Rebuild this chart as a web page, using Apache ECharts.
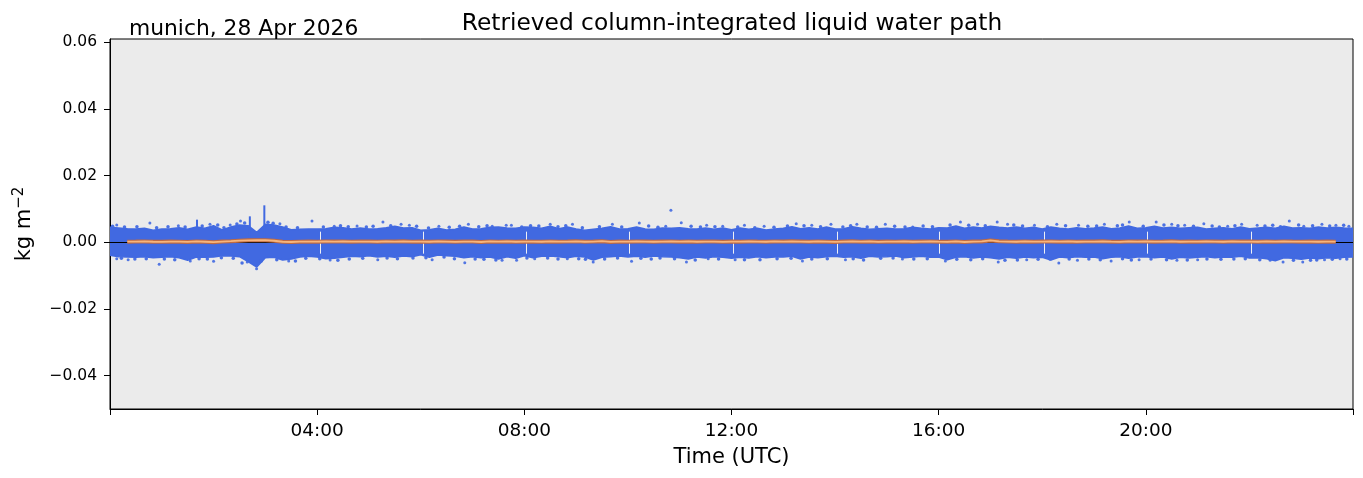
<!DOCTYPE html>
<html>
<head>
<meta charset="utf-8">
<title>Liquid water path</title>
<script src="https://cdn.jsdelivr.net/npm/echarts@6/dist/echarts.min.js"></script>
<style>
  html, body { margin: 0; padding: 0; background: #fff; }
  #chart { width: 1363px; height: 478px; }
</style>
</head>
<body>
<div id="chart"></div>
<script>
// envelope of the retrieved LWP cloud, one value every 10 min from 00:00 (kg m-2)
const ENV_STEP_H = 1 / 6;
const upperEnv = [
  0.0045, 0.0043, 0.0041, 0.0040, 0.0042, 0.0036,
  0.0040, 0.0041, 0.0044, 0.0039, 0.0046, 0.0042,
  0.0050, 0.0037, 0.0046, 0.0052, 0.0050, 0.0030,
  0.0054, 0.0052, 0.0046, 0.0038, 0.0039, 0.0040,
  0.0040, 0.0041, 0.0045, 0.0044, 0.0040, 0.0043,
  0.0040, 0.0041, 0.0044, 0.0048, 0.0043, 0.0044,
  0.0036, 0.0038, 0.0042, 0.0037, 0.0039, 0.0046,
  0.0040, 0.0041, 0.0045, 0.0046, 0.0043, 0.0042,
  0.0046, 0.0045, 0.0042, 0.0048, 0.0041, 0.0046,
  0.0040, 0.0036, 0.0039, 0.0042, 0.0047, 0.0040,
  0.0041, 0.0046, 0.0040, 0.0039, 0.0043, 0.0042,
  0.0044, 0.0041, 0.0040, 0.0043, 0.0039, 0.0043,
  0.0038, 0.0043, 0.0039, 0.0042, 0.0037, 0.0040,
  0.0042, 0.0047, 0.0041, 0.0044, 0.0040, 0.0046,
  0.0040, 0.0041, 0.0047, 0.0042, 0.0039, 0.0041,
  0.0042, 0.0040, 0.0041, 0.0045, 0.0042, 0.0040,
  0.0044, 0.0043, 0.0049, 0.0042, 0.0046, 0.0043,
  0.0048, 0.0045, 0.0043, 0.0046, 0.0042, 0.0045,
  0.0040, 0.0046, 0.0042, 0.0040, 0.0044, 0.0041,
  0.0043, 0.0046, 0.0041, 0.0043, 0.0049, 0.0042,
  0.0044, 0.0048, 0.0043, 0.0045, 0.0042, 0.0044,
  0.0045, 0.0040, 0.0042, 0.0044, 0.0041, 0.0046,
  0.0041, 0.0043, 0.0045, 0.0042, 0.0048, 0.0043,
  0.0044, 0.0042, 0.0046, 0.0043, 0.0045, 0.0043,
  0.0042
];
const lowerEnv = [
  -0.0039, -0.0043, -0.0044, -0.0045, -0.0043, -0.0046,
  -0.0045, -0.0043, -0.0046, -0.0054, -0.0044, -0.0045,
  -0.0044, -0.0040, -0.0041, -0.0043, -0.0058, -0.0074,
  -0.0046, -0.0045, -0.0053, -0.0050, -0.0044, -0.0042,
  -0.0044, -0.0049, -0.0048, -0.0045, -0.0042, -0.0043,
  -0.0040, -0.0044, -0.0042, -0.0045, -0.0041, -0.0043,
  -0.0037, -0.0045, -0.0038, -0.0040, -0.0042, -0.0046,
  -0.0043, -0.0046, -0.0044, -0.0050, -0.0043, -0.0048,
  -0.0040, -0.0046, -0.0042, -0.0041, -0.0043, -0.0046,
  -0.0042, -0.0044, -0.0053, -0.0045, -0.0043, -0.0041,
  -0.0044, -0.0042, -0.0045, -0.0041, -0.0043, -0.0044,
  -0.0046, -0.0050, -0.0044, -0.0047, -0.0043, -0.0045,
  -0.0048, -0.0045, -0.0047, -0.0043, -0.0046, -0.0044,
  -0.0044, -0.0042, -0.0050, -0.0044, -0.0046, -0.0043,
  -0.0042, -0.0045, -0.0043, -0.0048, -0.0042, -0.0044,
  -0.0043, -0.0041, -0.0046, -0.0044, -0.0042, -0.0045,
  -0.0044, -0.0052, -0.0045, -0.0043, -0.0047, -0.0044,
  -0.0046, -0.0050, -0.0045, -0.0048, -0.0044, -0.0046,
  -0.0045, -0.0053, -0.0044, -0.0046, -0.0043, -0.0045,
  -0.0044, -0.0049, -0.0045, -0.0043, -0.0048, -0.0044,
  -0.0043, -0.0046, -0.0044, -0.0050, -0.0045, -0.0047,
  -0.0045, -0.0043, -0.0046, -0.0044, -0.0045, -0.0042,
  -0.0047, -0.0046, -0.0049, -0.0055, -0.0046, -0.0048,
  -0.0051, -0.0047, -0.0049, -0.0046, -0.0048, -0.0045,
  -0.0044
];

// narrow spikes above the cloud: [hour, kg m-2]
const spikes = [[1.68, 0.0068], [2.70, 0.0078], [2.98, 0.0111]];

// isolated samples outside the dense cloud: [hour, kg m-2]
const outliers = [
  [0.13, 0.0052], [0.77, 0.0058], [1.32, 0.0050], [1.93, 0.0054], [2.32, 0.0052],
  [2.52, 0.0064], [3.28, 0.0056], [3.90, 0.0064], [4.33, 0.0048], [4.77, 0.0049],
  [5.27, 0.0061], [5.62, 0.0054], [5.78, 0.0051], [6.35, 0.0048], [6.92, 0.0054],
  [7.38, 0.0048], [7.65, 0.0051], [7.75, 0.0051], [8.50, 0.0054], [8.93, 0.0054],
  [9.70, 0.0054], [10.22, 0.0058], [10.73, 0.0048], [10.83, 0.0096], [11.03, 0.0059],
  [11.52, 0.0051], [11.83, 0.0048], [12.25, 0.0051], [12.63, 0.0048], [13.25, 0.0056],
  [13.55, 0.0051], [13.92, 0.0054], [14.42, 0.0054], [14.97, 0.0054], [15.50, 0.0046],
  [16.42, 0.0061], [16.75, 0.0054], [17.13, 0.0061], [17.33, 0.0054], [17.85, 0.0051],
  [18.28, 0.0054], [18.70, 0.0051], [19.20, 0.0054], [19.68, 0.0061], [20.20, 0.0061],
  [20.50, 0.0054], [20.75, 0.0051], [21.12, 0.0056], [21.58, 0.0048], [21.85, 0.0054],
  [22.15, 0.0051], [22.77, 0.0064], [23.05, 0.0048], [23.40, 0.0054], [23.67, 0.0051],
  [23.92, 0.0048],
  [0.13, -0.0049], [0.35, -0.0052], [0.95, -0.0066], [1.55, -0.0056], [2.00, -0.0057],
  [2.65, -0.0059], [2.83, -0.0079], [3.45, -0.0056], [4.25, -0.0053], [5.17, -0.0052],
  [6.22, -0.0052], [6.85, -0.0061], [7.57, -0.0054], [7.85, -0.0054], [8.20, -0.0049],
  [8.83, -0.0049], [9.33, -0.0059], [10.07, -0.0057], [11.13, -0.0059], [11.55, -0.0049],
  [12.07, -0.0052], [13.37, -0.0056], [14.20, -0.0052], [15.30, -0.0050], [16.13, -0.0056],
  [17.15, -0.0059], [17.70, -0.0052], [18.32, -0.0062], [18.68, -0.0054], [19.33, -0.0056],
  [19.87, -0.0052], [20.60, -0.0054], [21.00, -0.0052], [22.65, -0.0059], [23.03, -0.0059],
  [23.45, -0.0052], [23.75, -0.0049]
];

// loose samples along the ragged edge of the cloud: [hour, kg m-2]
const fringe = [
  [0.05, 0.0048], [0.28, 0.0046], [0.52, 0.0047], [0.90, 0.0044], [1.12, 0.0047],
  [1.45, 0.0046], [1.78, 0.0049], [2.08, 0.0052], [2.20, 0.0044], [2.45, 0.0055],
  [2.60, 0.0058], [3.05, 0.0060], [3.15, 0.0057], [3.40, 0.0046], [3.62, 0.0044],
  [4.12, 0.0046], [4.45, 0.0050], [4.60, 0.0047], [4.95, 0.0046], [5.08, 0.0048],
  [5.42, 0.0050], [5.92, 0.0048], [6.15, 0.0043], [6.55, 0.0045], [6.75, 0.0048],
  [7.12, 0.0047], [7.28, 0.0050], [7.95, 0.0046], [8.12, 0.0050], [8.28, 0.0049],
  [8.65, 0.0047], [8.80, 0.0050], [9.12, 0.0044], [9.45, 0.0047], [9.88, 0.0046],
  [10.40, 0.0049], [10.58, 0.0045], [11.22, 0.0048], [11.40, 0.0046], [11.68, 0.0047],
  [12.12, 0.0046], [12.45, 0.0044], [12.82, 0.0045], [13.08, 0.0049], [13.40, 0.0050],
  [13.72, 0.0047], [14.15, 0.0046], [14.30, 0.0050], [14.62, 0.0046], [14.80, 0.0045],
  [15.15, 0.0048], [15.35, 0.0046], [15.70, 0.0049], [15.88, 0.0047], [16.22, 0.0052],
  [16.58, 0.0051], [16.90, 0.0050], [17.45, 0.0052], [17.62, 0.0049], [18.10, 0.0047],
  [18.45, 0.0050], [18.88, 0.0048], [19.05, 0.0049], [19.45, 0.0050], [19.55, 0.0052],
  [19.95, 0.0048], [20.35, 0.0052], [20.62, 0.0050], [20.92, 0.0048], [21.28, 0.0049],
  [21.42, 0.0046], [21.72, 0.0050], [22.30, 0.0049], [22.45, 0.0051], [22.60, 0.0047],
  [22.95, 0.0052], [23.22, 0.0050], [23.55, 0.0049], [23.82, 0.0051],
  [0.22, -0.0048], [0.48, -0.0050], [0.70, -0.0049], [1.05, -0.0050], [1.25, -0.0052],
  [1.72, -0.0049], [1.88, -0.0050], [2.15, -0.0046], [2.38, -0.0048], [2.55, -0.0062],
  [2.92, -0.0056], [3.22, -0.0052], [3.58, -0.0056], [3.78, -0.0048], [4.05, -0.0049],
  [4.40, -0.0054], [4.62, -0.0050], [4.88, -0.0048], [5.35, -0.0047], [5.55, -0.0049],
  [5.85, -0.0047], [6.10, -0.0046], [6.45, -0.0044], [6.65, -0.0049], [7.05, -0.0050],
  [7.22, -0.0051], [7.45, -0.0053], [8.05, -0.0047], [8.45, -0.0047], [8.65, -0.0050],
  [9.05, -0.0049], [9.18, -0.0051], [9.55, -0.0050], [9.80, -0.0047], [10.25, -0.0048],
  [10.45, -0.0050], [10.62, -0.0047], [10.90, -0.0049], [11.30, -0.0053], [11.75, -0.0050],
  [12.25, -0.0052], [12.55, -0.0052], [12.88, -0.0049], [13.15, -0.0048], [13.55, -0.0050],
  [13.85, -0.0049], [14.35, -0.0049], [14.55, -0.0053], [14.88, -0.0048], [15.12, -0.0047],
  [15.52, -0.0050], [15.78, -0.0049], [16.35, -0.0051], [16.62, -0.0052], [16.85, -0.0049],
  [17.28, -0.0054], [17.52, -0.0053], [17.92, -0.0051], [18.15, -0.0050], [18.52, -0.0050],
  [18.90, -0.0050], [19.12, -0.0052], [19.55, -0.0049], [19.72, -0.0053], [20.10, -0.0050],
  [20.40, -0.0052], [20.80, -0.0053], [21.18, -0.0050], [21.45, -0.0051], [21.70, -0.0050],
  [21.92, -0.0049], [22.20, -0.0052], [22.40, -0.0053], [22.85, -0.0054], [23.18, -0.0054],
  [23.30, -0.0053], [23.60, -0.0051], [23.88, -0.0050]
];

// short data gaps (hour)
const gapTimes = [4.05, 6.05, 8.03, 10.03, 12.03, 14.05, 16.02, 18.03, 20.03, 22.03];

// running mean, every 10 min from 00:20 to 23:40
const MEAN_START_H = 20 / 60;
const runningMean = [
  0.00020, 0.00022, 0.00026, 0.00018,
  0.00016, 0.00024, 0.00020, 0.00012, 0.00026, 0.00018,
  0.00004, 0.00022, 0.00034, 0.00050, 0.00060, 0.00062,
  0.00064, 0.00048, 0.00018, 0.00010, 0.00020, 0.00024,
  0.00020, 0.00026, 0.00022, 0.00028, 0.00020, 0.00024,
  0.00022, 0.00018, 0.00026, 0.00022, 0.00030, 0.00020,
  0.00024, 0.00018, 0.00028, 0.00022, 0.00016, 0.00024,
  0.00022, 0.00010, 0.00026, 0.00020, 0.00028, 0.00018,
  0.00022, 0.00020, 0.00018, 0.00026, 0.00020, 0.00024,
  0.00030, 0.00018, 0.00022, 0.00034, 0.00012, 0.00024,
  0.00020, 0.00026, 0.00024, 0.00018, 0.00022, 0.00026,
  0.00020, 0.00028, 0.00018, 0.00024, 0.00022, 0.00016,
  0.00024, 0.00020, 0.00028, 0.00022, 0.00018, 0.00026,
  0.00022, 0.00030, 0.00024, 0.00018, 0.00026, 0.00020,
  0.00012, 0.00024, 0.00030, 0.00020, 0.00026, 0.00014,
  0.00024, 0.00020, 0.00028, 0.00018, 0.00024, 0.00026,
  0.00020, 0.00016, 0.00026, 0.00010, 0.00024, 0.00028,
  0.00056, 0.00030, 0.00022, 0.00018, 0.00026, 0.00020,
  0.00024, 0.00028, 0.00020, 0.00026, 0.00018, 0.00024,
  0.00022, 0.00030, 0.00020, 0.00016, 0.00026, 0.00022,
  0.00028, 0.00020, 0.00024, 0.00030, 0.00018, 0.00024,
  0.00020, 0.00026, 0.00022, 0.00018, 0.00028, 0.00022,
  0.00024, 0.00018, 0.00026, 0.00020, 0.00028, 0.00022,
  0.00020, 0.00024, 0.00018, 0.00022, 0.00020
];

const yTicks = [-0.04, -0.02, 0.00, 0.02, 0.04, 0.06];
const xTicks = [0, 4, 8, 12, 16, 20, 24];

const blue = '#4169e1';
const font = 'DejaVu Sans';

const upperData = upperEnv.map((v, i) => [i * ENV_STEP_H, v]);
const lowerData = lowerEnv.map((v, i) => [i * ENV_STEP_H, v]);
const meanData = runningMean.map((v, i) => [MEAN_START_H + i * ENV_STEP_H, v]);

function hhmm(h){
  if (h <= 0 || h >= 24) return '';
  return String(h).padStart(2, '0') + ':00';
}
function yFmt(v){
  const s = Math.abs(v).toFixed(2);
  return v < -1e-9 ? '\u2212' + s : s;
}

const chart = echarts.init(document.getElementById('chart'), null, { renderer: 'canvas' });

const option = {
  backgroundColor: '#fff',
  animation: false,
  textStyle: { fontFamily: font, color: '#000' },
  title: [
    {
      text: 'Retrieved column-integrated liquid water path',
      left: 727, top: 7, textAlign: 'center',
      textStyle: { fontFamily: font, fontSize: 23.3, fontWeight: 'normal', color: '#000' }
    },
    {
      text: 'munich, 28 Apr 2026',
      left: 124, top: 13,
      textStyle: { fontFamily: font, fontSize: 21.8, fontWeight: 'normal', color: '#000' }
    }
  ],
  grid: {
    left: 110, right: 10, top: 39, bottom: 69,
    show: true, backgroundColor: '#ebebeb', borderColor: '#000', borderWidth: 1
  },
  xAxis: {
    type: 'value', min: 0, max: 24,
    name: 'Time (UTC)', nameLocation: 'middle', nameGap: 38,
    nameTextStyle: { fontFamily: font, fontSize: 21, color: '#000' },
    axisLine: { show: true, onZero: false, lineStyle: { color: '#000', width: 1 } },
    axisTick: { show: true, length: 6, lineStyle: { color: '#000' }, customValues: xTicks },
    axisLabel: {
      margin: 13, fontFamily: font, fontSize: 18.5, color: '#000',
      customValues: xTicks, formatter: hhmm
    },
    splitLine: { show: false }
  },
  yAxis: {
    type: 'value', min: -0.05, max: 0.061,
    name: '{b|kg m}{s|\u22122}', nameLocation: 'middle', nameGap: 72,
    nameTextStyle: {
      fontFamily: font, fontSize: 21, color: '#000',
      rich: {
        b: { fontFamily: font, fontSize: 21, lineHeight: 26, color: '#000' },
        s: { fontFamily: font, fontSize: 15, verticalAlign: 'top', lineHeight: 26, color: '#000' }
      }
    },
    axisLine: { show: true, lineStyle: { color: '#000', width: 1 } },
    axisTick: { show: true, length: 6, lineStyle: { color: '#000' }, customValues: yTicks },
    axisLabel: {
      margin: 13, fontFamily: font, fontSize: 15.5, color: '#000',
      customValues: yTicks, formatter: yFmt
    },
    splitLine: { show: false }
  },
  series: [
    {
      name: 'upper', type: 'line', data: upperData, showSymbol: false, z: 2,
      lineStyle: { color: blue, width: 1.5 },
      areaStyle: { color: blue, opacity: 1, origin: 'auto' }
    },
    {
      name: 'lower', type: 'line', data: lowerData, showSymbol: false, z: 2,
      lineStyle: { color: blue, width: 1.5 },
      areaStyle: { color: blue, opacity: 1, origin: 'auto' }
    },
    {
      name: 'spikes', type: 'bar', data: spikes, barWidth: 2, z: 2,
      itemStyle: { color: blue }
    },
    {
      name: 'outliers', type: 'scatter', data: outliers, symbolSize: 3, z: 2,
      itemStyle: { color: blue, opacity: 0.9 }
    },
    {
      name: 'fringe', type: 'scatter', data: fringe, symbolSize: 3.5, z: 2,
      itemStyle: { color: blue, opacity: 0.95 }
    },
    {
      name: 'gaps', type: 'line', data: [], z: 3,
      markLine: {
        silent: true, symbol: 'none', animation: false, z: 3,
        label: { show: false },
        lineStyle: { color: '#eef0f6', width: 1, type: 'solid' },
        data: gapTimes.map(t => [{ coord: [t, -0.0034] }, { coord: [t, 0.0032] }])
      }
    },
    {
      name: 'zero', type: 'line', data: [], z: 4,
      markLine: {
        silent: true, symbol: 'none', animation: false, z: 4,
        label: { show: false },
        lineStyle: { color: '#000', width: 1.2, type: 'solid' },
        data: [{ yAxis: 0 }]
      }
    },
    {
      name: 'mean-edge', type: 'line', data: meanData, showSymbol: false, z: 5,
      lineStyle: { color: '#bf6a42', width: 4 }
    },
    {
      name: 'mean', type: 'line', data: meanData, showSymbol: false, z: 6,
      lineStyle: { color: '#f7b57c', width: 1.8 }
    }
  ]
};

chart.setOption(option);
</script>
</body>
</html>
